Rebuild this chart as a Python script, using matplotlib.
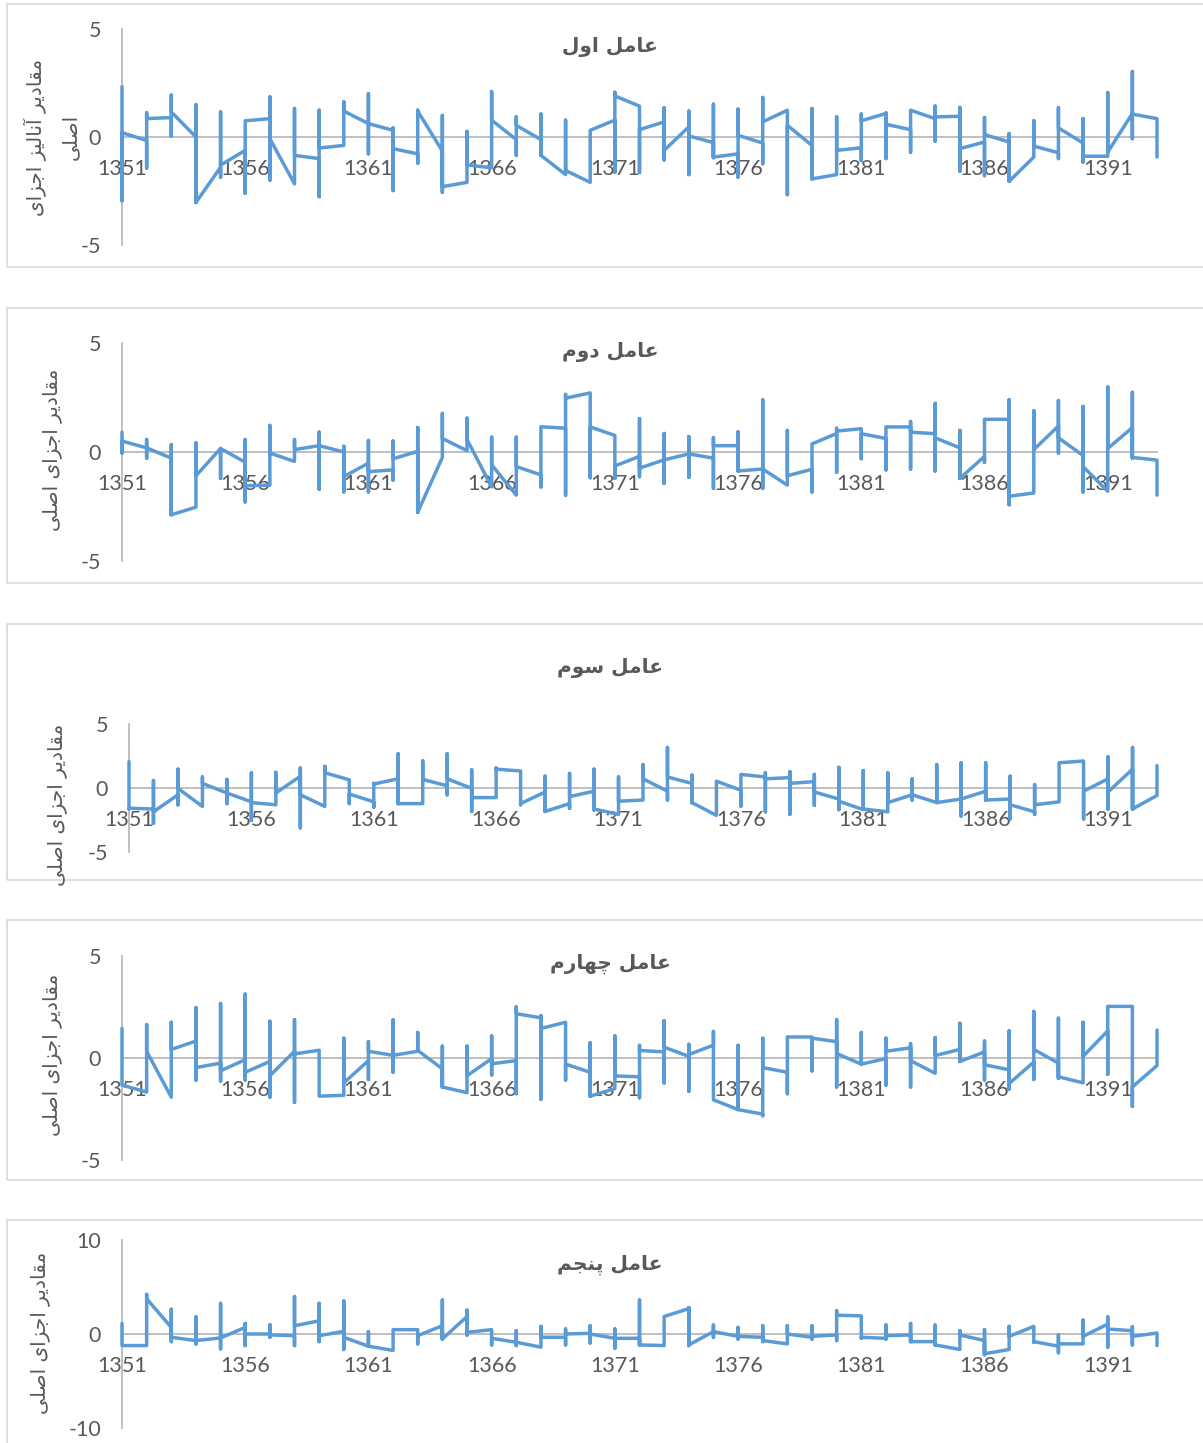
import numpy as np
import matplotlib
matplotlib.use("Agg")
import matplotlib.pyplot as plt
from matplotlib.patches import Rectangle

# ---------------- data ----------------
years = list(range(1351, 1394))
tick_years = [1351, 1356, 1361, 1366, 1371, 1376, 1381, 1386, 1391]

titles = ["عامل اول", "عامل دوم", "عامل سوم", "عامل چهارم", "عامل پنجم"]
ylabels = ["مقادیر آنالیز اجزای\nاصلی", "مقادیر اجزای اصلی", "مقادیر اجزای اصلی",
           "مقادیر اجزای اصلی", "مقادیر اجزای اصلی"]

# for each year: value entering the year, lowest, highest, value leaving the year
f1_in = [2.33, -0.16, 0.9, 0.0, -1.4, -0.62, 0.85, -2.17, -1.0, -0.39, 0.62, 0.31, -0.78, -0.65, -2.1,
         -1.43, -0.12, -0.12, -1.74, -2.1, 0.78, 1.43, 0.7, 0.47, -0.26, -0.78, -0.28, 1.24, -0.39, -1.74,
         -0.5, 1.09, 0.34, 0.85, 0.96, -0.23, -0.23, -0.93, -0.73, -0.28, -0.89, 1.09, 0.85]
f1_lo = [-2.95, -1.44, 0.05, -3.03, -1.86, -2.6, -2.0, -2.17, -2.76, -0.39, -0.78, -2.48, -1.21, -2.56, -2.1,
         -1.43, -0.85, -0.85, -1.74, -2.1, -1.63, -1.63, -1.06, -1.74, -0.96, -1.86, -1.24, -2.67, -1.94, -1.74,
         -1.09, -1.0, -0.7, -0.19, -1.58, -1.79, -2.05, -0.93, -1.0, -1.16, -0.89, -0.08, -0.93]
f1_hi = [2.33, 1.12, 1.94, 1.5, 1.16, 0.75, 1.86, 1.32, 1.24, 1.63, 2.0, 0.42, 1.24, 1.0, 0.26,
         2.1, 0.93, 1.06, 0.78, 0.31, 2.07, 1.43, 1.35, 1.2, 1.52, 1.29, 1.83, 1.24, 1.32, 0.93,
         1.06, 1.12, 1.24, 1.43, 1.37, 0.9, 0.16, 0.75, 1.35, 0.85, 2.05, 3.03, 0.85]
f1_out = [0.2, 0.85, 1.16, -3.03, -1.3, 0.75, -0.08, -0.85, -0.51, 1.2, 0.62, -0.54, 1.2, -2.3, -1.29,
          0.78, 0.54, -0.85, -1.55, 0.31, 1.9, 0.34, -0.62, 0.05, -0.93, 0.08, 0.7, 0.54, -1.94, -0.62,
          0.75, 0.59, 1.24, 0.93, -0.54, 0.11, -2.05, -0.42, 0.42, -0.89, -0.7, 1.06, -0.93]

f2_in = [0.91, 0.19, -0.28, -2.53, 0.16, -0.47, -1.52, -0.43, 0.29, 0.0, -0.51, -0.82, 0.03, -0.25, 0.06,
         -1.6, -1.98, -1.05, 1.09, 2.71, 0.76, -0.2, -0.36, -0.09, -0.28, 0.29, -0.78, -1.52, -0.79, 0.85,
         1.07, 0.62, 1.15, 0.84, 0.19, -0.2, 1.5, -1.88, 1.19, -0.16, -1.8, 1.12, -0.37]
f2_lo = [-0.05, -0.28, -2.88, -2.53, -1.21, -2.29, -1.52, -0.43, -1.71, -1.83, -1.83, -1.29, -2.76, -0.25, 0.06,
         -1.6, -1.98, -1.6, -1.98, -1.18, -1.21, -1.13, -1.44, -1.16, -1.67, -0.87, -1.67, -1.52, -1.83, -0.93,
         -0.31, -0.82, -0.78, -0.87, -1.21, -0.47, -2.42, -1.88, -0.05, -1.83, -1.8, -0.28, -1.98]
f2_hi = [0.91, 0.57, 0.34, 0.42, 0.16, 0.57, 1.22, 0.57, 0.91, 0.26, 0.53, 0.5, 1.12, 1.77, 1.55,
         0.68, 0.68, 1.16, 2.64, 2.71, 0.76, 1.53, 0.85, 0.71, 0.65, 0.93, 2.39, 0.99, 0.37, 1.09,
         1.07, 1.15, 1.4, 2.23, 0.99, 1.5, 2.4, 1.89, 2.36, 2.09, 2.98, 2.74, -0.37]
f2_out = [0.5, 0.19, -2.88, -1.09, 0.16, -1.55, -0.05, 0.11, 0.29, -1.13, -0.9, -0.31, -2.76, 0.62, 0.57,
          -0.59, -0.67, 1.16, 2.47, 1.15, -0.64, -0.74, -0.36, -0.09, 0.29, -0.87, -0.78, -1.09, 0.37, 0.96,
          0.84, 1.15, 0.91, 0.65, -1.21, 1.5, -2.03, 0.11, 0.65, -0.67, 0.16, -0.25, -1.98]

f3_in = [2.06, -1.64, -0.53, -1.44, -0.39, -1.08, -1.31, 0.92, -1.44, 0.64, -1.08, 0.72, -1.22, 0.17, -0.03,
         -0.75, 1.33, -0.31, -1.22, -0.25, -2.06, -0.94, -0.25, 0.36, -2.14, -0.17, 0.86, 0.81, 0.5, -0.86,
         -1.69, -1.86, -0.53, -1.14, -0.86, -0.25, -0.86, -1.86, -1.08, 2.11, 0.72, 1.47, -0.58]
f3_lo = [-1.64, -2.75, -1.31, -1.44, -1.22, -2.53, -1.31, -3.11, -1.44, -1.22, -1.5, -1.22, -1.22, -0.53, -1.83,
         -0.75, -1.31, -1.83, -1.58, -1.72, -2.06, -0.94, -0.94, -1.14, -2.14, -1.42, -1.86, -2.06, -1.36, -1.69,
         -1.69, -1.86, -0.94, -1.14, -2.19, -0.94, -2.42, -2.06, -1.08, -2.42, -1.64, -1.64, -0.58]
f3_hi = [2.06, 0.58, 1.47, 0.86, 0.67, 1.19, 1.22, 1.56, 1.69, 0.64, 0.36, 2.67, 2.11, 2.67, 1.42,
         1.56, 1.33, 0.92, 1.14, 1.47, 0.86, 1.83, 3.17, 1.0, 0.53, 1.06, 1.19, 1.28, 1.06, 1.61,
         1.36, 1.19, 0.72, 1.83, 1.97, 1.97, 0.92, 0.25, 1.97, 2.11, 2.44, 3.17, 1.75]
f3_out = [-1.58, -1.86, -0.03, 0.36, -0.39, -1.14, -0.39, -0.53, 1.19, -0.47, 0.31, -1.22, 0.67, 0.72, -0.75,
          1.47, -1.22, -1.83, -0.67, -1.64, -1.03, 0.72, 0.86, -1.14, 0.53, 1.06, 0.72, 0.36, -0.31, -1.03,
          -1.64, -1.14, -0.53, -1.14, -0.86, -0.94, -1.31, -1.31, 1.97, -0.25, -0.31, -1.64, 1.75]

f4_in = [1.45, -1.67, -1.92, 0.83, -0.25, -0.08, -0.17, 0.33, 0.38, -1.83, -0.13, 0.13, 0.33, -0.53, -1.7,
         -0.03, -0.13, 1.97, 1.75, -0.7, -1.5, -0.92, 0.3, 0.08, 0.63, -2.53, -2.75, -0.7, 1.03, 0.8,
         -0.3, -0.03, 0.5, -0.75, 0.42, 0.3, -0.58, -0.2, -0.25, -1.22, 1.33, 2.53, -0.37]
f4_lo = [-1.33, -1.67, -1.92, -1.08, -1.13, -1.08, -1.92, -2.17, -1.87, -1.83, -1.05, -0.7, 0.33, -1.42, -1.7,
         -0.83, -1.75, -2.03, -1.08, -1.87, -1.5, -1.95, -1.22, -1.63, -2.05, -2.53, -2.83, -1.75, -0.63, -1.42,
         -0.3, -1.33, -1.42, -0.75, -0.17, -1.08, -1.53, -1.05, -1.0, -1.22, -0.8, -2.37, -0.37]
f4_hi = [1.45, 1.63, 1.75, 2.47, 2.67, 3.13, 1.8, 1.88, 0.38, 0.97, 0.8, 1.87, 1.25, 0.58, 0.58,
         1.08, 2.5, 2.08, 1.75, 0.75, 1.08, 0.62, 1.83, 0.67, 1.3, 0.62, 0.97, 1.03, 1.03, 1.88,
         1.25, 0.97, 0.7, 1.0, 1.7, 0.83, 1.33, 2.28, 1.95, 1.75, 2.53, 2.53, 1.37]
f4_out = [-1.33, 0.33, 0.42, -0.47, -0.63, -0.7, -0.87, 0.2, -1.87, -1.22, 0.33, 0.13, 0.37, -1.42, -0.87,
          -0.28, 2.17, 1.45, -0.3, -1.87, -0.88, 0.37, 0.53, 0.17, -2.05, -2.53, -0.47, 1.03, 0.97, 0.22,
          -0.3, 0.33, -0.13, 0.12, -0.17, -0.33, -1.25, 0.42, -0.92, 0.08, 2.53, -1.42, 1.37]

f5_in = [1.12, -1.23, 0.7, -0.7, -0.42, 0.7, 0.0, -0.18, 1.4, 0.28, -1.3, -1.75, 0.46, 0.88, 1.86,
         0.46, -0.88, -1.4, -0.35, 0.07, -0.46, -0.46, -1.23, 2.7, 0.25, -0.25, -0.35, -1.05, -0.35, -0.1,
         1.93, -0.46, -0.1, -0.81, -1.65, -0.7, -1.65, 0.81, -1.3, -1.05, 1.05, 0.35, 0.1]
f5_lo = [-1.23, -1.23, -0.81, -1.05, -1.58, -1.23, -0.35, -1.23, -0.81, -1.65, -1.3, -1.75, -1.05, -0.53, -0.1,
         -1.16, -1.23, -1.4, -1.16, -0.95, -1.51, -1.16, -1.23, -1.23, -0.35, -0.53, -0.81, -1.05, -0.53, -0.7,
         -0.46, -0.53, -0.81, -1.16, -1.65, -2.21, -1.65, -0.88, -2.0, -1.05, -1.4, -1.16, -1.23]
f5_hi = [1.12, 4.21, 2.63, 1.82, 3.26, 1.12, 0.98, 3.96, 3.26, 3.51, 0.25, 0.46, 0.46, 3.61, 2.53,
         0.46, 0.35, 0.81, 0.53, 0.88, 0.53, 3.61, 1.86, 2.81, 0.95, 0.7, 0.88, 0.88, 0.88, 2.46,
         1.93, 0.95, 1.12, 0.95, 0.35, 0.46, 0.81, 0.81, -0.1, 1.47, 1.82, 0.77, 0.1]
f5_out = [-1.23, 3.75, -0.35, -0.7, -0.42, 0.0, -0.1, 0.88, -0.18, -0.35, -1.3, 0.46, -0.18, -0.53, 0.18,
          -0.46, -0.88, -0.35, 0.0, 0.0, -0.46, -1.16, 1.86, -1.16, 0.25, -0.25, -0.7, 0.0, -0.25, 2.0,
          -0.35, -0.18, -0.81, -1.16, -0.1, -2.1, -0.25, -0.81, -1.05, -0.25, 0.53, -0.25, -1.23]

series = [(f1_in, f1_lo, f1_hi, f1_out), (f2_in, f2_lo, f2_hi, f2_out), (f3_in, f3_lo, f3_hi, f3_out),
          (f4_in, f4_lo, f4_hi, f4_out), (f5_in, f5_lo, f5_hi, f5_out)]
y_limits = [5, 5, 5, 5, 10]

# ---------------- Arabic shaping (no bidi engine in matplotlib 3.10) ----------------
AR = {
    "\u0627": ("\uFE8D", "\uFE8E", None, None),
    "\u0622": ("\uFE81", "\uFE82", None, None),
    "\u067E": ("\uFB56", "\uFB57", "\uFB58", "\uFB59"),
    "\u062C": ("\uFE9D", "\uFE9E", "\uFE9F", "\uFEA0"),
    "\u0686": ("\uFB7A", "\uFB7B", "\uFB7C", "\uFB7D"),
    "\u062F": ("\uFEA9", "\uFEAA", None, None),
    "\u0631": ("\uFEAD", "\uFEAE", None, None),
    "\u0632": ("\uFEAF", "\uFEB0", None, None),
    "\u0633": ("\uFEB1", "\uFEB2", "\uFEB3", "\uFEB4"),
    "\u0635": ("\uFEB9", "\uFEBA", "\uFEBB", "\uFEBC"),
    "\u0639": ("\uFEC9", "\uFECA", "\uFECB", "\uFECC"),
    "\u0642": ("\uFED5", "\uFED6", "\uFED7", "\uFED8"),
    "\u0644": ("\uFEDD", "\uFEDE", "\uFEDF", "\uFEE0"),
    "\u0645": ("\uFEE1", "\uFEE2", "\uFEE3", "\uFEE4"),
    "\u0646": ("\uFEE5", "\uFEE6", "\uFEE7", "\uFEE8"),
    "\u0647": ("\uFEE9", "\uFEEA", "\uFEEB", "\uFEEC"),
    "\u0648": ("\uFEED", "\uFEEE", None, None),
    "\u06CC": ("\uFBFC", "\uFBFD", "\uFBFE", "\uFBFF"),
}


def shape_line(s):
    out = []
    for i, ch in enumerate(s):
        if ch not in AR:
            out.append(ch)
            continue
        forms = AR[ch]
        prev = s[i - 1] if i > 0 else None
        nxt = s[i + 1] if i + 1 < len(s) else None
        jp = prev in AR and AR[prev][2] is not None
        jn = nxt in AR and forms[2] is not None
        if jp and jn:
            g = forms[3]
        elif jp:
            g = forms[1]
        elif jn:
            g = forms[2]
        else:
            g = forms[0]
        out.append(g)
    return "".join(reversed(out))


def shape(s):
    return "\n".join(shape_line(l) for l in s.split("\n"))


# ---------------- layout (pixels) ----------------
W, H = 1203, 1443
fig = plt.figure(figsize=(W / 100, H / 100), dpi=100)
fig.patch.set_facecolor("white")

BLUE = "#5B9BD5"
GRAY = "#595959"
AXC = "#BFBFBF"
NUM_FONT = ["Lato", "DejaVu Sans"]
AR_FONT = ["DejaVu Sans"]

# x0, x1 (px of first/last year), y top, y bottom (px of +lim/-lim)
axes_px = [(122, 1157, 29, 245), (122, 1157, 343, 561), (129, 1157, 724, 852),
           (122, 1157, 956, 1160), (122, 1157, 1240, 1428)]
boxes_px = [(7, 4, 267), (7, 308, 583), (7, 624, 880), (7, 920, 1180), (7, 1220, 1470)]
title_y = [47, 352, 668, 964, 1265]
ylab_xy = [(52, 137), (52, 450), (57, 805), (52, 1055), (40, 1333)]


def fx(px):
    return px / W


def fy(py):
    return 1 - py / H


for k in range(5):
    bx, bt, bb = boxes_px[k]
    fig.patches.append(Rectangle((fx(bx), fy(bb)), fx(1215 - bx), (bb - bt) / H,
                                 transform=fig.transFigure, fill=False,
                                 edgecolor="#D9D9D9", linewidth=1.2, zorder=0))

    x0, x1, yt, yb = axes_px[k]
    ax = fig.add_axes([fx(x0), fy(yb), (x1 - x0) / W, (yb - yt) / H])
    ax.set_facecolor("none")
    lim = y_limits[k]
    ax.set_xlim(years[0], years[-1])
    ax.set_ylim(-lim, lim)

    v_in, v_lo, v_hi, v_out = series[k]
    xs = np.repeat(years, 4)
    ys = np.column_stack([v_in, v_lo, v_hi, v_out]).ravel()
    ax.plot(xs, ys, color=BLUE, linewidth=2.5, solid_joinstyle="round",
            solid_capstyle="round", clip_on=False, zorder=3)

    for s in ["top", "right"]:
        ax.spines[s].set_visible(False)
    ax.spines["left"].set_color(AXC)
    ax.spines["left"].set_linewidth(1.4)
    ax.spines["bottom"].set_position(("data", 0))
    ax.spines["bottom"].set_color(AXC)
    ax.spines["bottom"].set_linewidth(1.4)
    ax.spines["left"].set_zorder(1)
    ax.spines["bottom"].set_zorder(1)

    ax.set_xticks(tick_years)
    ax.set_xticklabels([str(t) for t in tick_years])
    ax.set_yticks([-lim, 0, lim])
    ax.set_yticklabels([str(-lim), "0", str(lim)])
    ax.tick_params(axis="x", length=0, pad=16, labelsize=15.5, labelcolor=GRAY)
    ax.tick_params(axis="y", length=0, pad=15, labelsize=15.5, labelcolor=GRAY)
    for lab in ax.get_xticklabels() + ax.get_yticklabels():
        lab.set_family(NUM_FONT)

    fig.text(fx(610), fy(title_y[k]), shape(titles[k]), ha="center", va="center",
             fontsize=14.5, fontweight="bold", color=GRAY, family=AR_FONT)
    lx, ly = ylab_xy[k]
    fig.text(fx(lx), fy(ly), shape(ylabels[k]), ha="center", va="center", rotation=90,
             fontsize=14.5, color=GRAY, family=AR_FONT, multialignment="center",
             linespacing=1.9)

fig.savefig("out.png", dpi=100, facecolor="white")
